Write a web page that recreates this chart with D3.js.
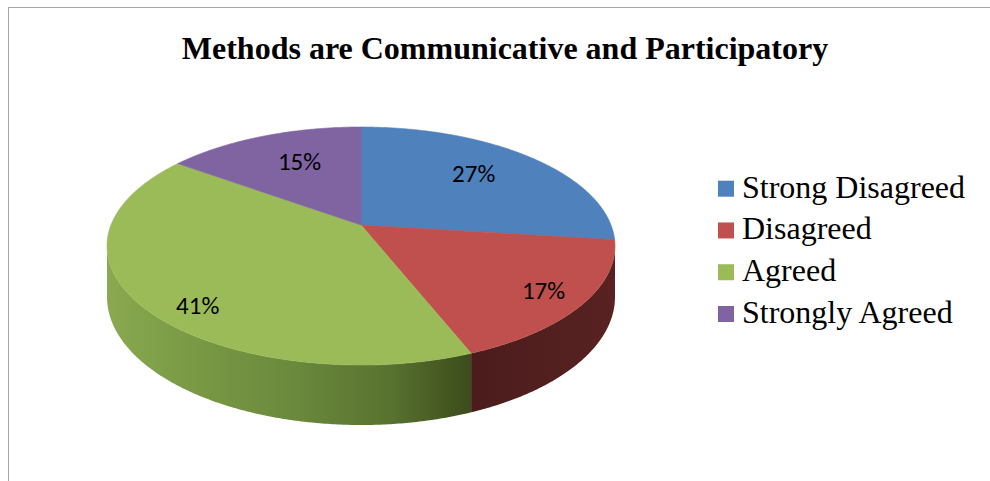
<!DOCTYPE html>
<html>
<head>
<meta charset="utf-8">
<script src="https://cdn.jsdelivr.net/npm/d3@7"></script>
<style>
  html, body { margin: 0; padding: 0; background: #fff; }
  svg { display: block; }
</style>
</head>
<body>
<svg id="chart" width="990" height="481"></svg>
<script>
// ---- data ----
const chartTitle = "Methods are Communicative and Participatory";
const categories = ["Strong Disagreed", "Disagreed", "Agreed", "Strongly Agreed"];
const values = [27, 17, 41, 15];
const valueLabels = ["27%", "17%", "41%", "15%"];

// ---- styles ----
const topColors = ["#4F81BD", "#C0504D", "#9BBB59", "#8064A2"];
// horizontal shading of each slice's outer wall (left -> right)
const wallStops = [
  [[0, "#3b5e8a"], [1, "#2c4a70"]],
  [[0, "#4b1c1c"], [1, "#582221"]],
  [[0, "#8aa950"], [0.16, "#7e9e48"], [0.52, "#6a893c"], [0.78, "#58722f"], [0.95, "#42541f"], [1, "#3c4c1e"]],
  [[0, "#5d4878"], [1, "#4a395f"]]
];
// label placement on the top face: radial fraction and angular nudge (degrees)
const labelRadius = [0.69, 0.84, 0.85, 0.67];
const labelNudge = [-3.4, 0, -9, 3];

// ---- geometry of the tilted disc ----
const disc = { cx: 361, cy: 225, rx: 250, ry: 115.3, persp: 0.1765, depth: 49.4 };

// project a point of the disc (angle clockwise from 12 o'clock, radial fraction, drop below top face)
function project(phi, r, drop) {
  const v = r * Math.sin(phi);
  const u = -r * Math.cos(phi);
  const w = 1 - disc.persp * u;
  return [disc.cx + disc.rx * v / w, disc.cy + (disc.ry * u + drop) / w];
}
function arcPoints(a0, a1, drop) {
  const n = Math.max(2, Math.ceil(Math.abs(a1 - a0) / (Math.PI / 360)));
  const pts = [];
  for (let i = 0; i <= n; i++) pts.push(project(a0 + (a1 - a0) * i / n, 1, drop));
  return pts;
}

const svg = d3.select("#chart");
svg.append("rect").attr("width", 990).attr("height", 481).attr("fill", "#fff");

// chart area frame
svg.append("rect")
  .attr("x", 8.5).attr("y", 7.5).attr("width", 1000).attr("height", 500)
  .attr("fill", "none").attr("stroke", "#a6a6a6").attr("stroke-width", 1);

// title
svg.append("text")
  .attr("x", 505).attr("y", 59)
  .attr("text-anchor", "middle")
  .attr("font-family", "'Liberation Serif', 'Times New Roman', serif")
  .attr("font-weight", "bold")
  .attr("font-size", 32)
  .attr("fill", "#000")
  .text(chartTitle);

const defs = svg.append("defs");
wallStops.forEach((stops, i) => {
  const g = defs.append("linearGradient")
    .attr("id", "wall" + i)
    .attr("x1", 0).attr("y1", 0).attr("x2", 1).attr("y2", 0);
  stops.forEach(s => g.append("stop").attr("offset", s[0]).attr("stop-color", s[1]));
});

const arcs = d3.pie().sort(null).startAngle(0).endAngle(2 * Math.PI)(values);
const line = d3.line();

// visible part of the outer wall lies between the two silhouette angles
const silL = Math.acos(-disc.persp);
const silR = 2 * Math.PI - silL;

const walls = svg.append("g");
arcs.forEach((a, i) => {
  const lo = Math.max(a.startAngle, silL);
  const hi = Math.min(a.endAngle, silR);
  if (hi <= lo) return;
  const pts = arcPoints(lo, hi, 0).concat(arcPoints(hi, lo, disc.depth));
  walls.append("path")
    .attr("d", line(pts) + "Z")
    .attr("fill", `url(#wall${i})`)
    .attr("stroke", "none");
});

const tops = svg.append("g");
arcs.forEach((a, i) => {
  const pts = [[disc.cx, disc.cy]].concat(arcPoints(a.startAngle, a.endAngle, 0));
  tops.append("path")
    .attr("d", line(pts) + "Z")
    .attr("fill", topColors[i])
    .attr("stroke", topColors[i])
    .attr("stroke-width", 0.6)
    .attr("stroke-linejoin", "round");
});

// value labels
const labels = svg.append("g");
arcs.forEach((a, i) => {
  const mid = (a.startAngle + a.endAngle) / 2 + labelNudge[i] * Math.PI / 180;
  const p = project(mid, labelRadius[i], 0);
  labels.append("text")
    .attr("x", p[0]).attr("y", p[1])
    .attr("dy", "0.36em")
    .attr("text-anchor", "middle")
    .attr("font-family", "Carlito, Lato, 'Open Sans', sans-serif")
    .attr("font-size", 25)
    .attr("fill", "#000")
    .text(valueLabels[i]);
});

// legend
const legendY = d3.scalePoint().domain(categories).range([188.7, 314]);
const legend = svg.append("g");
categories.forEach((c, i) => {
  const y = legendY(c);
  legend.append("rect")
    .attr("x", 718).attr("y", y - 8).attr("width", 16).attr("height", 16)
    .attr("fill", topColors[i]);
  legend.append("text")
    .attr("x", 742).attr("y", y + 9)
    .attr("font-family", "'Liberation Serif', 'Times New Roman', serif")
    .attr("font-size", 32)
    .attr("fill", "#000")
    .text(c);
});
</script>
</body>
</html>
